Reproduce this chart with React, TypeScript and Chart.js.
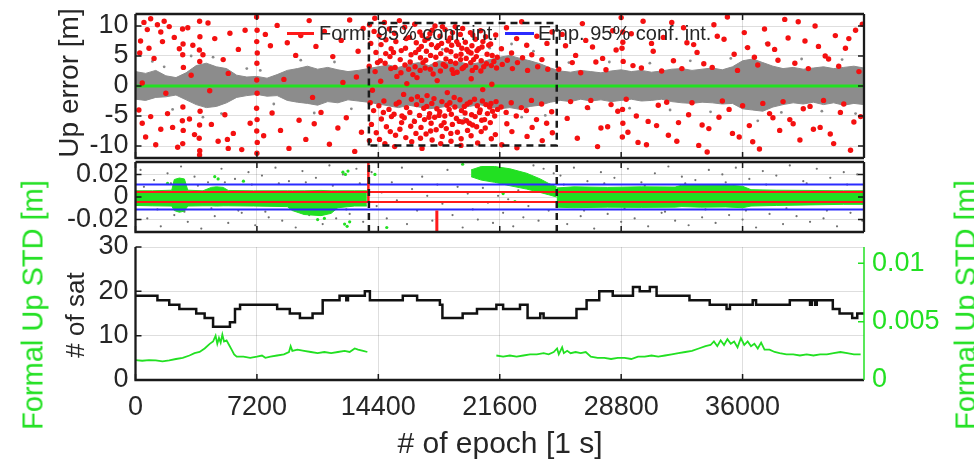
import React, { useEffect, useRef } from 'react';
import { Chart, registerables } from 'chart.js';
Chart.register(...registerables);

const FONT = "'Liberation Sans', Arial, Helvetica, sans-serif";
const TXT = '#262626';
const GREEN = '#22e022';
const GRID = 'rgba(0,0,0,0.13)';

// ---------- shared x axis ----------
const xMin = 0;
const xMax = 43200;
const xTickValues = [0, 7200, 14400, 21600, 28800, 36000];

// ---------- top panel: Up error [m] ----------
const upTicks = [-10, -5, 0, 5, 10];
const upMin = -12;
const upMax = 12;
const bandX = [0,600,1200,1800,2400,3000,3600,4200,4800,5400,6000,6600,7200,7800,8400,9000,9600,10200,10800,11400,12000,12600,13200,13800,14400,15000,15600,16200,16800,17400,18000,18600,19200,19800,20400,21000,21600,22200,22800,23400,24000,24600,25200,25800,26400,27000,27600,28200,28800,29400,30000,30600,31200,31800,32400,33000,33600,34200,34800,35400,36000,36600,37200,37800,38400,39000,39600,40200,40800,41400,42000,42600,43200];
const bandU = [2.4,2.1,2.6,1.7,1.4,2.2,3.4,3.8,3.2,2.9,1.8,1.5,1.6,1.3,1.9,2.6,2.9,3.3,2.8,3.1,2.7,2.4,2.6,2.9,3.2,3.5,3.1,3.6,3.9,3.4,4.2,3.8,4.0,3.6,3.9,4.4,4.8,5.1,4.6,4.2,3.7,3.0,2.5,2.3,2.6,2.4,2.2,2.5,2.7,2.4,2.6,2.3,2.5,2.8,2.9,2.6,2.8,3.0,2.7,3.2,4.2,4.5,3.9,3.3,2.9,3.1,2.8,3.0,3.2,2.9,3.1,3.3,3.0];
const bandL = [-2.2,-2.4,-1.9,-1.8,-1.5,-2.3,-3.1,-3.6,-3.4,-2.8,-1.9,-1.6,-1.4,-1.7,-1.6,-2.4,-2.7,-2.9,-3.2,-2.6,-2.8,-2.3,-2.5,-2.7,-3.0,-3.3,-3.6,-3.2,-3.5,-3.8,-3.6,-3.3,-3.7,-3.4,-3.1,-3.5,-3.8,-3.6,-3.9,-3.4,-3.2,-2.7,-2.4,-2.6,-2.2,-2.5,-2.3,-2.6,-2.4,-2.2,-2.5,-2.4,-2.2,-2.6,-2.8,-2.9,-2.7,-2.8,-3.0,-2.9,-3.8,-4.0,-4.2,-3.5,-3.1,-2.8,-3.0,-2.7,-3.1,-2.8,-3.2,-2.9,-3.1];
const grayOutliers = [[1000,4.1],[2200,-3.9],[3300,5.0],[4000,-5.2],[4600,4.8],[6600,2.9],[8200,-3.0],[9800,4.3],[10600,-4.5],[11800,4.0],[12800,-3.8],[14800,5.4],[16500,-5.6],[18200,6.1],[19500,-5.4],[21000,6.3],[22300,7.0],[22900,-5.2],[23600,5.8],[24300,-4.9],[25700,3.9],[26900,-3.8],[28100,4.0],[29300,-3.7],[30500,3.8],[31700,-4.0],[32900,4.2],[34100,-4.3],[35300,4.6],[36200,6.4],[36900,-5.8],[37400,7.1],[38300,-4.4],[39500,4.5],[40700,-4.2],[41900,4.4],[42700,-4.6],[1700,3.2],[5100,-4.6],[7400,2.6]];
const redErrA = [
  [500,10.6],[900,11.2],[1300,10.2],[1700,10.8],[2000,9.9],[700,9.4],[1500,9.0],
  [300,7.5],[250,5.5],[800,6.3],[1600,7.4],[1100,4.6],[2300,8.1],[2600,6.2],[3100,9.7],[3400,6.8],[4000,5.2],[4300,10.5],[4700,7.9],[5200,4.4],[5600,8.8],[6100,6.1],[6500,9.3],[7700,8.6],[8000,6.7],[8400,10.1],[9000,7.2],[9500,5.1],[9800,8.4],[10300,10.9],[10700,6.6],[11200,9.1],[11700,4.9],[12200,7.6],[12700,11.0],[13200,5.8],[13500,9.6],
  [2790,9.5],[2820,7.0],[2800,5.2],[2840,3.1],[2810,-3.5],[2780,-5.8],[2830,-7.4],[2800,-9.6],
  [3800,10.8],[3820,8.2],[3790,6.0],[3810,4.1],[3830,-4.2],[3800,-6.5],[3780,-8.7],[3810,-10.8],[3800,-11.5],
  [7180,11.5],[7210,9.3],[7190,7.4],[7220,5.5],[7200,3.8],[7180,-3.7],[7210,-5.6],[7190,-7.5],[7220,-9.4],[7200,-11.2],[7190,1.0],[7210,-1.2],
  [200,-4.0],[400,-6.2],[600,-8.5],[900,-5.1],[1200,-9.8],[1500,-7.2],[1900,-4.6],[2200,-6.9],[2500,-10.2],[3200,-5.5],[3500,-8.1],[4500,-6.4],[4900,-9.2],[5300,-4.8],[5450,-8.9],[5500,-10.4],[5800,-7.9],[6300,-10.6],[6800,-6.2],[7600,-8.3],[8100,-4.5],[8600,-7.4],[9100,-10.4],[9700,-5.7],[10100,-8.9],[10600,-6.3],[11000,-4.4],[11500,-9.7],[12000,-7.0],[12500,-5.3],[13000,-10.9],[13400,-7.7],
  [400,0.5],[1800,-1.2],[3300,1.8],[4400,-0.8],[5500,2.1],[8800,1.1],[10500,-1.9],[12300,0.6],[13100,1.5]
];
const redErrB = [
  [13880,10.2],[13950,7.1],[13860,3.3],[13920,-2.8],[13990,-6.4],[13870,-9.1],
  [14150,9.1],[14260,5.6],[14210,2.4],[14120,-4.1],[14280,-7.8],[14190,11.3],
  [14450,8.4],[14560,6.9],[14520,4.2],[14430,-3.3],[14580,-5.5],[14470,-8.9],[14540,0.8],
  [14760,10.6],[14850,7.7],[14800,3.8],[14730,-2.5],[14880,-6.8],[14790,-9.6],[14840,5.4],
  [15050,9.5],[15160,6.2],[15090,4.9],[15140,2.9],[15030,-3.9],[15180,-5.1],[15110,-7.6],
  [15360,8.8],[15440,7.4],[15390,3.1],[15460,-3.0],[15330,-4.7],[15420,-8.2],[15370,-10.1],
  [15650,10.9],[15760,5.9],[15700,4.4],[15740,2.2],[15630,-2.7],[15780,-6.1],[15680,-7.2],
  [15960,9.8],[16050,7.9],[16010,6.3],[15980,3.5],[16070,-3.6],[15940,-5.3],[16030,-8.6],[16090,0.4],
  [16250,8.1],[16340,5.2],[16290,4.0],[16360,-2.2],[16270,-4.4],[16320,-6.7],[16380,-9.3],
  [16560,10.3],[16650,7.2],[16610,5.6],[16580,3.2],[16670,-3.1],[16540,-5.9],[16630,-7.9],[16690,1.4],
  [16860,9.0],[16950,6.6],[16900,4.7],[16880,2.6],[16970,-2.4],[16840,-4.9],[16930,-6.9],[16990,-10.4],
  [17160,7.6],[17250,5.8],[17210,4.3],[17180,3.0],[17270,-3.4],[17140,-5.6],[17230,-8.0],[17290,-1.6],
  [17460,8.7],[17550,6.9],[17500,5.1],[17480,2.8],[17570,-2.9],[17440,-4.6],[17530,-6.2],[17590,-9.0],
  [17760,10.0],[17850,6.4],[17810,4.8],[17780,3.6],[17870,-3.8],[17740,-5.2],[17830,-7.3],[17890,0.9],
  [18060,8.3],[18150,7.1],[18100,5.4],[18080,2.5],[18170,-2.6],[18040,-4.3],[18130,-6.6],[18190,-8.4],
  [18360,9.4],[18450,6.0],[18410,4.5],[18380,3.3],[18470,-3.2],[18340,-5.0],[18430,-7.1],[18490,-1.1],
  [18660,8.0],[18750,6.8],[18700,5.7],[18680,4.1],[18770,2.7],[18640,-2.8],[18730,-4.7],[18790,-6.4],[18710,-9.2],
  [18960,9.9],[19050,7.4],[19010,5.0],[18980,3.8],[19070,2.3],[18940,-3.5],[19030,-5.4],[19090,-7.7],
  [19260,8.6],[19350,6.3],[19300,5.3],[19280,4.4],[19370,2.9],[19240,-2.3],[19330,-4.1],[19390,-6.0],[19310,-8.8],
  [19560,7.3],[19650,6.1],[19610,4.6],[19580,3.4],[19670,-3.0],[19540,-4.5],[19630,-5.8],[19690,-7.4],
  [19860,8.9],[19950,6.7],[19900,5.5],[19880,3.9],[19970,2.6],[19840,-2.7],[19930,-4.8],[19990,-6.5],[19910,1.2],
  [20160,7.8],[20250,5.9],[20210,4.9],[20180,3.1],[20270,-3.3],[20140,-5.1],[20230,-6.8],[20290,-9.5],
  [20460,9.2],[20550,6.5],[20500,4.2],[20480,2.5],[20570,-2.5],[20440,-4.0],[20530,-5.7],[20590,-0.6],
  [20760,8.2],[20850,5.3],[20810,3.7],[20780,-3.1],[20870,-4.6],[20740,-7.0],
  [21060,7.0],[21150,5.1],[21100,3.4],[21080,-2.9],[21170,-4.2],[21040,-6.1],[21130,0.3],
  [21360,8.5],[21450,4.8],[21410,3.0],[21380,-2.6],[21470,-3.9],[21340,-8.1],
  [16450,1.9],[16720,-1.8],[16800,6.1],[17050,3.9],[17100,-3.7],[17350,7.9],[17400,-5.2],[17650,2.0],[17700,-2.1],[17950,6.7],[18000,-4.9],[18250,3.6],[18300,-6.1],[18550,7.5],[18600,-3.9],[18850,2.1],[18900,-1.9],[19150,6.9],[19200,-5.9],[19450,3.1],[19500,-3.4],[19750,5.7],[19800,-6.2],[20050,4.4],[20100,-2.2],[20350,6.2],[20400,-4.4],[20650,3.2],[20700,-5.6],[20950,6.8],[21000,-3.5],[21250,4.1],[21300,-5.0],
  [17000,8.4],[17600,9.3],[18200,9.9],[18800,8.9],[19400,9.6],[20000,8.5],[20600,7.4],[16900,-8.7],[17500,-7.5],[18100,-9.6],[18700,-7.9],[19300,-9.9],[19900,-8.3],[20500,-7.6],[21100,-8.8],
  [15500,1.6],[15900,-1.4],[16200,2.8],[15300,5.6],[15800,-5.0],[14700,-4.4],[14350,3.9],[14050,-0.7]
];
const redErrC = [
  [21700,6.2],[21750,3.6],[21680,-3.5],[21720,-9.8],[22000,9.7],[22050,4.3],[21980,-4.4],[22020,-6.3],[22300,5.5],[22350,2.9],[22280,-2.8],[22320,-7.6],[22600,7.9],[22650,3.9],[22580,-5.0],[22620,-10.3],[22900,10.7],[22950,4.7],[22880,-3.6],[23200,6.8],[23250,2.6],[23180,-4.1],[23220,-8.4],[23500,5.2],[23480,-2.4],[23520,-6.9],[23800,8.3],[23850,3.2],[23780,-5.6],[24100,4.4],[24080,-3.0],[24120,-9.1],[24400,7.1],[24450,2.8],[24380,-6.2],[24700,9.0],[24680,-4.3],[24720,-7.8]
];
const redErrD = [
  [25300,8.6],[25600,-5.4],[25900,3.9],[26200,-8.7],[26500,10.4],[26800,-3.6],[27100,6.5],[27400,-10.1],[27700,4.6],[28000,-6.8],[28300,9.2],[28600,-4.2],[28900,7.3],[29200,-7.7],[29500,3.4],[29800,-9.4],[30100,10.8],[30400,-5.9],[30700,5.8],[31000,-3.2],[31300,8.1],[31600,-8.2],[31900,4.2],[32200,-6.1],[32500,9.7],[32800,-4.8],[33100,6.9],[33400,-9.9],[33700,3.7],[34000,-7.1],[34300,10.2],[34600,-5.2],[34900,7.8],[35200,-3.9],[35500,5.3],[35800,-8.5],[36100,8.9],[36400,-6.6],[36700,4.8],[37000,-10.5],[37300,9.5],[37600,-4.6],[37900,6.1],[38200,-7.4],[38500,11.1],[38800,-5.6],[39100,3.8],[39400,-9.0],[39700,7.5],[40000,-3.4],[40300,10.0],[40600,-6.9],[40900,5.0],[41200,-8.0],[41500,8.4],[41800,-4.4],[42100,6.3],[42400,-10.7],[42700,9.3],[43000,-5.1],
  [25100,2.8],[25500,6.7],[25800,-2.6],[26100,5.1],[26400,2.2],[26700,7.6],[27000,-2.4],[27300,4.0],[27600,-7.0],[27900,2.7],[28200,-3.1],[28500,6.0],[28800,11.4],[29100,-2.2],[29400,8.7],[29700,-5.0],[30000,3.0],[30300,-9.8],[30600,7.1],[30900,-6.6],[31200,2.5],[31500,-2.7],[31800,10.6],[32100,-9.2],[32400,2.9],[32700,7.2],[33000,-2.8],[33300,5.6],[33600,-6.5],[33900,-11.0],[34200,3.1],[34500,8.3],[34800,-2.5],[35100,11.5],[35400,-7.9],[35700,2.6],[36000,-3.3],[36300,6.4],[36600,-9.3],[36900,3.5],[37200,-2.9],[37500,7.0],[37800,-5.3],[38100,4.3],[38400,-2.6],[38700,8.0],[39000,-6.3],[39300,10.7],[39600,-3.8],[39900,2.9],[40200,-7.2],[40500,6.6],[40800,-2.4],[41100,4.5],[41400,-9.6],[41700,3.3],[42000,-3.0],[42300,7.9],[42600,-6.0],[42900,2.4],[43100,10.3],
  [28900,9.0],[28850,6.3],[28920,4.1],[28880,-3.9],[28900,-6.2],[28870,-8.5]
];
const boxX = [13840, 24980];
const boxY = [-9.9, 10.5];

// ---------- middle panel: zoomed Up error ----------
const midTicks = [-0.02, 0, 0.02];
const midMin = -0.031;
const midMax = 0.031;
const formConf = 0.0045;
const empConf = 0.011;
const legendLabels = ['Form. 95% conf. int.', 'Emp. 95% conf. int.'];
const midBandAX = [0,1000,2150,2300,2600,2900,3100,4000,4500,4800,5200,5500,7000,9000,9300,10000,11000,11600,12000,13000,13720];
const midBandAU = [0.0055,0.0055,0.006,0.0155,0.0168,0.016,0.006,0.0055,0.0085,0.009,0.0085,0.0058,0.0055,0.0055,0.0055,0.0055,0.0058,0.0055,0.0055,0.0055,0.0055];
const midBandAL = [-0.0075,-0.0078,-0.008,-0.012,-0.0135,-0.0125,-0.008,-0.0078,-0.0078,-0.008,-0.0078,-0.0078,-0.008,-0.0085,-0.012,-0.0155,-0.0165,-0.0145,-0.0095,-0.008,-0.008];
const midBandBX = [24970,26000,28000,30000,32000,32400,33500,35000,36000,36500,38000,40000,42000,43200];
const midBandBU = [0.008,0.009,0.0085,0.009,0.0088,0.0105,0.011,0.0108,0.0095,0.0065,0.006,0.0058,0.0055,0.0055];
const midBandBL = [-0.009,-0.0095,-0.009,-0.0092,-0.009,-0.0085,-0.009,-0.0088,-0.0095,-0.008,-0.0075,-0.007,-0.0065,-0.0065];
const cloudX = [19900,20500,21300,22200,23200,24000,24500,24970];
const cloudU = [0.024,0.027,0.027,0.025,0.021,0.016,0.012,0.009];
const cloudL = [0.018,0.015,0.013,0.01,0.007,0.004,0.002,0.0];
const midGreenPts = [[12300,0.022],[12450,0.02],[12600,0.023],[12400,-0.024],[12550,-0.026],[12700,-0.022],[4700,0.018],[4900,0.016],[6400,0.014],[1900,0.012],[10800,-0.02],[11200,-0.019],[14200,0.02],[14900,-0.027],[21800,0.003],[22500,-0.004],[19400,0.029]];
const midGrayPts = [
  [300,0.024],[700,-0.019],[1100,0.015],[1500,-0.026],[1900,0.021],[2300,-0.016],[2700,0.027],[3100,-0.022],[3500,0.018],[3900,-0.028],[4300,0.013],[4700,-0.017],[5100,0.025],[5500,-0.023],[5900,0.016],[6300,-0.014],[6700,0.022],[7100,-0.025],[7500,0.019],[7900,-0.018],[8300,0.026],[8700,-0.021],[9100,0.014],[9500,-0.027],[9900,0.023],[10300,-0.016],[10700,0.017],[11100,-0.024],[11500,0.028],[11900,-0.019],[12300,0.02],[12700,-0.015],[13100,0.025],[13500,-0.022],
  [500,0.009],[1300,-0.011],[2100,0.012],[2900,-0.013],[3700,0.01],[4500,-0.01],[5300,0.013],[6100,-0.012],[6900,0.011],[7700,-0.013],[8500,0.012],[9300,-0.01],[10100,0.013],[10900,-0.012],[11700,0.01],[12500,-0.011],[13300,0.012],
  [14000,0.022],[14300,-0.008],[14600,0.004],[14900,-0.019],[15200,0.013],[15500,-0.003],[15800,0.026],[16100,-0.024],[16400,0.007],[16700,-0.012],[17000,0.018],[17300,0.001],[17600,-0.021],[17900,0.011],[18200,-0.006],[18500,0.024],[18800,-0.016],[19100,0.009],[19400,-0.027],[19700,0.003],[20000,-0.011],[20300,-0.02],[20600,0.008],[20900,-0.005],[21200,-0.023],[21500,0.001],[21800,-0.014],[22100,-0.002],[22400,-0.026],[22700,0.006],[23000,-0.018],[23300,-0.008],[23600,0.028],[23900,-0.021],[24200,0.025],[24500,-0.012],[24800,0.021],
  [25200,0.019],[25600,-0.024],[26000,0.026],[26400,-0.017],[26800,0.014],[27200,-0.028],[27600,0.022],[28000,-0.015],[28400,0.017],[28800,-0.022],[29200,0.025],[29600,-0.019],[30000,0.013],[30400,-0.026],[30800,0.021],[31200,-0.014],[31600,0.027],[32000,-0.021],[32400,0.018],[32800,-0.025],[33200,0.015],[33600,-0.018],[34000,0.024],[34400,-0.023],[34800,0.02],[35200,-0.016],[35600,0.026],[36000,-0.02],[36400,0.016],[36800,-0.027],[37200,0.023],[37600,-0.015],[38000,0.019],[38400,-0.024],[38800,0.028],[39200,-0.017],[39600,0.014],[40000,-0.022],[40400,0.025],[40800,-0.019],[41200,0.017],[41600,-0.026],[42000,0.022],[42400,-0.014],[42800,0.02],[43100,-0.021],
  [25400,0.011],[26600,-0.012],[27800,0.012],[29000,-0.01],[30200,0.01],[31400,-0.013],[32600,0.012],[33800,-0.011],[35000,0.013],[36200,-0.012],[37400,0.011],[38600,-0.01],[39800,0.012],[41000,-0.012],[42200,0.011]
];
const redSpikeX = [13810, 17870];
const redSpikeY = [[-0.004, 0.031], [-0.031, -0.012]];

// ---------- bottom panel: satellites and formal STD ----------
const satTicks = [0, 10, 20, 30];
const stdTicks = [0, 0.005, 0.01];
const stdMax = 0.0114;
const satEpoch = [0,1300,2000,2600,3600,4100,4600,5300,5600,5900,6200,8150,8400,9150,9750,10500,11100,12100,12500,12600,13600,13900,15850,16700,18050,18200,19400,20250,21400,21800,22800,23250,24000,24200,25750,26150,26750,27500,28300,29500,29900,30500,30900,32850,34050,35050,35250,36600,36800,38800,40000,40100,40300,40400,41350,41750,42500,42800,43200];
const satCount = [19,18,17,16,15,14,12,12,13,16,17,17,16,15,14,15,18,19,18,19,20,18,19,18,17,14,15,16,17,16,17,14,15,14,14,16,18,20,19,21,20,21,19,18,17,16,17,18,17,18,17,18,17,18,16,15,14,15,15];
const stdEpoch = [0,400,800,1200,1600,2000,2400,2800,3200,3500,3800,4100,4400,4600,4750,4850,4950,5050,5150,5250,5400,5550,5700,5850,6000,6400,6800,7200,7500,7700,8000,8400,8800,9100,9200,9300,9600,10000,10400,10800,11200,11600,12000,12400,12700,13000,13200,13500,13750,13760,21400,21800,22200,22600,23000,23400,23800,24200,24500,24800,25000,25100,25300,25400,25600,25800,26100,26400,26700,27000,27400,27800,28200,28600,29000,29400,29800,30200,30600,31000,31400,31800,32200,32600,33000,33400,33800,34100,34300,34500,34700,34900,35100,35300,35500,35700,35900,36100,36300,36500,36700,36900,37100,37300,37600,37900,38200,38600,39000,39400,39800,40200,40600,41000,41400,41800,42200,42600,43000];
const stdValue = [0.0017,0.00165,0.0017,0.00168,0.0016,0.00168,0.0018,0.0019,0.0021,0.0023,0.0024,0.0027,0.0031,0.0033,0.0038,0.0031,0.0036,0.0032,0.0039,0.0033,0.0034,0.003,0.0026,0.0022,0.002,0.002,0.0019,0.002,0.0021,0.0019,0.002,0.0021,0.0022,0.0024,0.0029,0.0025,0.0026,0.0025,0.0024,0.0023,0.0024,0.0023,0.0024,0.0025,0.0024,0.0027,0.0026,0.0025,0.0024,null,0.0021,0.002,0.0021,0.002,0.0021,0.0022,0.0022,0.0023,0.0022,0.0024,0.0027,0.0022,0.0028,0.0023,0.0025,0.0023,0.0024,0.0023,0.0024,0.002,0.0019,0.0019,0.0018,0.0019,0.0019,0.0018,0.002,0.002,0.0021,0.002,0.0021,0.0022,0.0023,0.0024,0.0025,0.0027,0.0029,0.003,0.0033,0.0029,0.0034,0.003,0.0035,0.0031,0.0033,0.0028,0.0036,0.003,0.0033,0.0029,0.0031,0.0027,0.0032,0.0026,0.0026,0.0024,0.0023,0.0022,0.0022,0.0021,0.0022,0.0021,0.0022,0.0022,0.0023,0.0024,0.0023,0.0022,0.0022];

// ---------- helpers ----------
const toPts = (xs: number[], ys: any[]) => xs.map((x, i) => ({ x, y: ys[i] }));
const pairPts = (arr: number[][]) => arr.map(([x, y]) => ({ x, y }));
const hLine = (v: number) => [{ x: xMin, y: v }, { x: xMax, y: v }];
const tickFont = { family: FONT, size: 27 };

const noPad = (s: any) => {
  s.paddingTop = 0;
  s.paddingBottom = 0;
  s.paddingLeft = 0;
  s.paddingRight = 0;
};

function xScale(showLabels: boolean) {
  return {
    type: 'linear',
    min: xMin,
    max: xMax,
    afterBuildTicks: (s: any) => { s.ticks = xTickValues.map((v) => ({ value: v })); },
    grid: { color: GRID, lineWidth: 1, drawTicks: false },
    border: { display: false },
    ticks: showLabels
      ? { display: true, color: TXT, font: tickFont, padding: 11, maxRotation: 0, autoSkip: false, callback: (v: any) => String(v) }
      : { display: false },
    afterFit: (s: any) => { s.height = showLabels ? 84 : 0; noPad(s); },
  };
}

function yScale(min: number, max: number, ticks: number[]) {
  return {
    type: 'linear',
    position: 'left',
    min,
    max,
    afterBuildTicks: (s: any) => { s.ticks = ticks.map((v) => ({ value: v })); },
    grid: { color: GRID, lineWidth: 1, drawTicks: false },
    border: { display: false },
    ticks: { color: TXT, font: tickFont, padding: 7, autoSkip: false, callback: (v: any) => String(v) },
    afterFit: (s: any) => { s.width = 135.5; noPad(s); },
  };
}

function framePlugin(cfg: { topBorder: boolean; xTop: boolean; rightAxis?: string; rightColor?: string }) {
  return {
    id: 'frameTicks',
    afterDatasetsDraw(chart: any) {
      const { ctx, chartArea: a, scales } = chart;
      const L = 6;
      ctx.save();
      ctx.lineWidth = 1.5;
      ctx.strokeStyle = '#1a1a1a';
      ctx.beginPath();
      for (const t of scales.x.ticks) {
        const px = scales.x.getPixelForValue(t.value);
        ctx.moveTo(px, a.bottom);
        ctx.lineTo(px, a.bottom - L);
        if (cfg.xTop) { ctx.moveTo(px, a.top); ctx.lineTo(px, a.top + L); }
      }
      for (const t of scales.y.ticks) {
        const py = scales.y.getPixelForValue(t.value);
        ctx.moveTo(a.left, py);
        ctx.lineTo(a.left + L, py);
        if (!cfg.rightAxis) { ctx.moveTo(a.right, py); ctx.lineTo(a.right - L, py); }
      }
      ctx.stroke();
      if (cfg.rightAxis) {
        const s = scales[cfg.rightAxis];
        ctx.strokeStyle = cfg.rightColor;
        ctx.beginPath();
        for (const t of s.ticks) {
          const py = s.getPixelForValue(t.value);
          ctx.moveTo(a.right, py);
          ctx.lineTo(a.right - L, py);
        }
        ctx.stroke();
      }
      ctx.lineWidth = 2.3;
      ctx.strokeStyle = '#1a1a1a';
      ctx.beginPath();
      ctx.moveTo(a.left, a.top);
      ctx.lineTo(a.left, a.bottom);
      ctx.lineTo(a.right, a.bottom);
      if (cfg.topBorder) { ctx.moveTo(a.left, a.top); ctx.lineTo(a.right, a.top); }
      if (!cfg.rightAxis) { ctx.moveTo(a.right, a.top); ctx.lineTo(a.right, a.bottom); }
      ctx.stroke();
      if (cfg.rightAxis) {
        ctx.strokeStyle = cfg.rightColor;
        ctx.lineWidth = 1.5;
        ctx.beginPath();
        ctx.moveTo(a.right, a.top);
        ctx.lineTo(a.right, a.bottom);
        ctx.stroke();
      }
      ctx.restore();
    },
  };
}

const baseOpts = {
  responsive: false,
  maintainAspectRatio: false,
  animation: false,
  devicePixelRatio: 1,
  events: [],
  plugins: { legend: { display: false }, tooltip: { enabled: false } },
};

function topConfig(): any {
  const gray = '#8c8c8c';
  return {
    type: 'line',
    data: {
      datasets: [
        { data: toPts(bandX, bandL), borderColor: gray, borderWidth: 1, pointRadius: 0, fill: false, order: 10 },
        { data: toPts(bandX, bandU), borderColor: gray, borderWidth: 1, pointRadius: 0, fill: '-1', backgroundColor: gray, order: 10 },
        { data: pairPts(grayOutliers), showLine: false, pointRadius: 1.4, pointBackgroundColor: '#8a8a8a', pointBorderWidth: 0, order: 9 },
        { data: hLine(0), borderColor: GREEN, borderWidth: 3, pointRadius: 0, order: 8 },
        { data: pairPts([...redErrA, ...redErrB, ...redErrC, ...redErrD]), showLine: false, pointRadius: 2.7, pointBackgroundColor: '#f41010', pointBorderWidth: 0, order: 7 },
        {
          data: [
            { x: boxX[0], y: boxY[0] }, { x: boxX[0], y: boxY[1] }, { x: boxX[1], y: boxY[1] },
            { x: boxX[1], y: boxY[0] }, { x: boxX[0], y: boxY[0] },
          ],
          borderColor: '#1a1a1a', borderWidth: 2.5, borderDash: [7, 5], pointRadius: 0, order: 1,
        },
      ],
    },
    options: {
      ...baseOpts,
      layout: { padding: { left: 0, right: 110, top: 14, bottom: 3 } },
      scales: { x: xScale(false), y: yScale(upMin, upMax, upTicks) },
    },
    plugins: [framePlugin({ topBorder: true, xTop: true })],
  };
}

function midConfig(): any {
  return {
    type: 'line',
    data: {
      datasets: [
        { data: pairPts(midGrayPts), showLine: false, pointRadius: 1.1, pointBackgroundColor: '#707070', pointBorderWidth: 0, order: 12 },
        { data: toPts(midBandAX, midBandAL), borderColor: GREEN, borderWidth: 1, pointRadius: 0, fill: false, order: 10 },
        { data: toPts(midBandAX, midBandAU), borderColor: GREEN, borderWidth: 1, pointRadius: 0, fill: '-1', backgroundColor: GREEN, order: 10 },
        { data: toPts(midBandBX, midBandBL), borderColor: GREEN, borderWidth: 1, pointRadius: 0, fill: false, order: 10 },
        { data: toPts(midBandBX, midBandBU), borderColor: GREEN, borderWidth: 1, pointRadius: 0, fill: '-1', backgroundColor: GREEN, order: 10 },
        { data: toPts(cloudX, cloudL), borderColor: GREEN, borderWidth: 1, pointRadius: 0, fill: false, order: 10 },
        { data: toPts(cloudX, cloudU), borderColor: GREEN, borderWidth: 1, pointRadius: 0, fill: '-1', backgroundColor: GREEN, order: 10 },
        { data: pairPts(midGreenPts), showLine: false, pointRadius: 1.6, pointBackgroundColor: GREEN, pointBorderWidth: 0, order: 9 },
        { label: legendLabels[0], data: hLine(formConf), borderColor: '#ff1a1a', borderWidth: 2, pointRadius: 0, order: 5 },
        { label: legendLabels[0], data: hLine(-formConf), borderColor: '#ff1a1a', borderWidth: 2, pointRadius: 0, order: 5 },
        { label: legendLabels[1], data: hLine(empConf), borderColor: '#2b2bff', borderWidth: 2, pointRadius: 0, order: 5 },
        { label: legendLabels[1], data: hLine(-empConf), borderColor: '#2b2bff', borderWidth: 2, pointRadius: 0, order: 5 },
        { data: [{ x: redSpikeX[0], y: redSpikeY[0][0] }, { x: redSpikeX[0], y: redSpikeY[0][1] }], borderColor: '#ff1a1a', borderWidth: 2.5, pointRadius: 0, order: 3 },
        { data: [{ x: redSpikeX[1], y: redSpikeY[1][0] }, { x: redSpikeX[1], y: redSpikeY[1][1] }], borderColor: '#ff1a1a', borderWidth: 3, pointRadius: 0, order: 3 },
        { data: [{ x: boxX[0], y: midMin }, { x: boxX[0], y: midMax }], borderColor: '#1a1a1a', borderWidth: 2.5, borderDash: [7, 5], pointRadius: 0, order: 1 },
        { data: [{ x: boxX[1], y: midMin }, { x: boxX[1], y: midMax }], borderColor: '#1a1a1a', borderWidth: 2.5, borderDash: [7, 5], pointRadius: 0, order: 1 },
      ],
    },
    options: {
      ...baseOpts,
      layout: { padding: { left: 0, right: 110, top: 2, bottom: 3 } },
      scales: { x: xScale(false), y: yScale(midMin, midMax, midTicks) },
    },
    plugins: [framePlugin({ topBorder: true, xTop: true })],
  };
}

function bottomConfig(): any {
  return {
    type: 'line',
    data: {
      datasets: [
        { data: toPts(satEpoch, satCount), yAxisID: 'y', stepped: true, borderColor: '#111', borderWidth: 2.5, pointRadius: 0, order: 1 },
        { data: toPts(stdEpoch, stdValue), yAxisID: 'y2', spanGaps: false, borderColor: GREEN, borderWidth: 1.8, pointRadius: 0, order: 2 },
      ],
    },
    options: {
      ...baseOpts,
      layout: { padding: { left: 0, right: 0, top: 25, bottom: 0 } },
      scales: {
        x: xScale(true),
        y: yScale(0, 30, satTicks),
        y2: {
          type: 'linear',
          position: 'right',
          min: 0,
          max: stdMax,
          afterBuildTicks: (s: any) => { s.ticks = stdTicks.map((v) => ({ value: v })); },
          grid: { display: false, drawTicks: false },
          border: { display: false },
          ticks: { color: GREEN, font: tickFont, padding: 8, autoSkip: false, callback: (v: any) => String(v) },
          afterFit: (s: any) => { s.width = 110; noPad(s); },
        },
      },
    },
    plugins: [framePlugin({ topBorder: false, xTop: false, rightAxis: 'y2', rightColor: GREEN })],
  };
}

function VLabel(props: { text: string; cx: number; cy: number; size: number; color: string }) {
  const { text, cx, cy, size, color } = props;
  return (
    <div
      style={{
        position: 'absolute', left: cx, top: cy, transform: 'translate(-50%,-50%) rotate(-90deg)',
        whiteSpace: 'nowrap', fontSize: size, color, lineHeight: 1, fontFamily: FONT,
      }}
    >
      {text}
    </div>
  );
}

export default function App() {
  const topRef = useRef<HTMLCanvasElement>(null);
  const midRef = useRef<HTMLCanvasElement>(null);
  const botRef = useRef<HTMLCanvasElement>(null);

  useEffect(() => {
    const charts = [
      new Chart(topRef.current as HTMLCanvasElement, topConfig()),
      new Chart(midRef.current as HTMLCanvasElement, midConfig()),
      new Chart(botRef.current as HTMLCanvasElement, bottomConfig()),
    ];
    return () => charts.forEach((c) => c.destroy());
  }, []);

  const legendText: any = {
    position: 'absolute', top: 33, transform: 'translateY(-50%)', fontSize: 20, color: TXT,
    whiteSpace: 'nowrap', lineHeight: 1, fontFamily: FONT,
  };

  return (
    <div style={{ position: 'fixed', left: 0, top: 0, width: 974, height: 464, background: '#fff', overflow: 'hidden', fontFamily: FONT }}>
      <canvas ref={topRef} width={974} height={162} style={{ position: 'absolute', left: 0, top: 0, display: 'block' }} />
      <canvas ref={midRef} width={974} height={78} style={{ position: 'absolute', left: 0, top: 158, display: 'block' }} />
      <canvas ref={botRef} width={974} height={242} style={{ position: 'absolute', left: 0, top: 222, display: 'block' }} />

      <div style={{ position: 'absolute', left: 287, top: 32, width: 27, height: 2.5, background: '#ff1a1a' }} />
      <div style={{ ...legendText, left: 319 }}>{legendLabels[0]}</div>
      <div style={{ position: 'absolute', left: 505, top: 32, width: 29, height: 2.5, background: '#2b2bff' }} />
      <div style={{ ...legendText, left: 538 }}>{legendLabels[1]}</div>

      <VLabel text="Up error [m]" cx={69} cy={83} size={28} color={TXT} />
      <VLabel text="# of sat" cx={75} cy={315} size={26} color={TXT} />
      <VLabel text="Formal Up STD [m]" cx={33} cy={305} size={29} color={GREEN} />
      <VLabel text="Formal Up STD [m]" cx={966} cy={305} size={29} color={GREEN} />
      <div style={{ position: 'absolute', left: 500, top: 443, transform: 'translate(-50%,-50%)', fontSize: 30, color: TXT, whiteSpace: 'nowrap', lineHeight: 1, fontFamily: FONT }}>
        # of epoch [1 s]
      </div>
    </div>
  );
}
